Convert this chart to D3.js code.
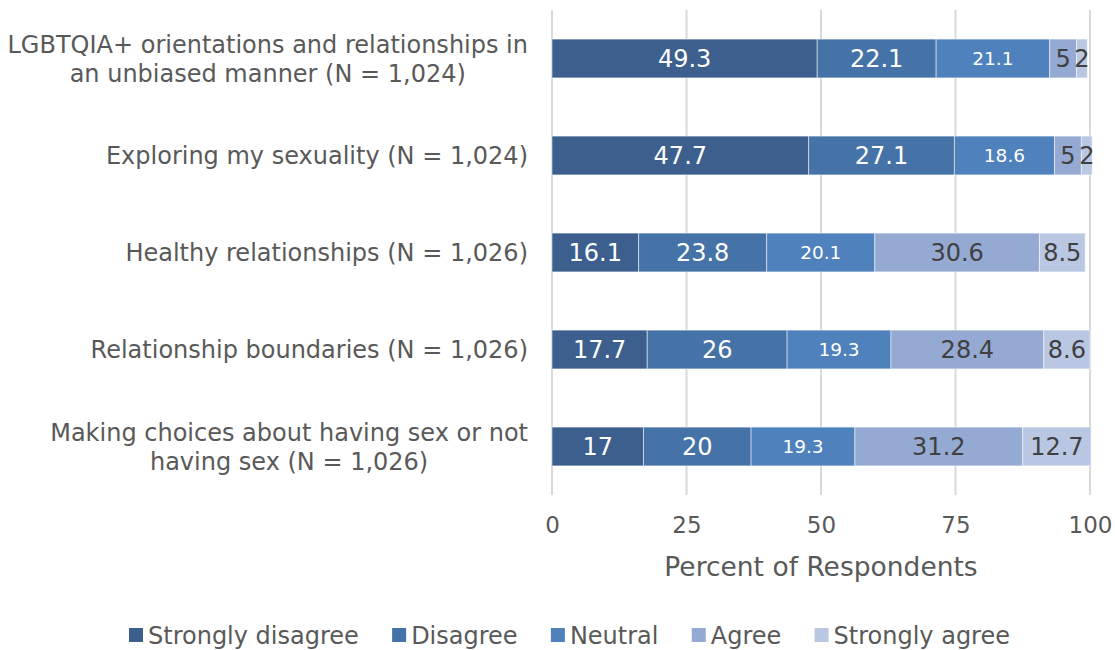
<!DOCTYPE html>
<html><head><meta charset="utf-8">
<script src="https://cdn.jsdelivr.net/npm/d3@7"></script>
<style>body{margin:0;background:#fff}svg{display:block}text{font-family:"DejaVu Sans",Verdana,sans-serif}</style>
</head><body><svg id="c" width="1115" height="650"></svg>
<script>
const categories = [
  ["LGBTQIA+ orientations and relationships in","an unbiased manner (N = 1,024)"],
  ["Exploring my sexuality (N = 1,024)"],
  ["Healthy relationships (N = 1,026)"],
  ["Relationship boundaries (N = 1,026)"],
  ["Making choices about having sex or not","having sex (N = 1,026)"]
];
const seriesNames = ["Strongly disagree","Disagree","Neutral","Agree","Strongly agree"];
const stronglyDisagree = [49.3, 47.7, 16.1, 17.7, 17];
const disagree = [22.1, 27.1, 23.8, 26, 20];
const neutral = [21.1, 18.6, 20.1, 19.3, 19.3];
const agree = [5, 5, 30.6, 28.4, 31.2];
const stronglyAgree = [2, 2, 8.5, 8.6, 12.7];
const xTicks = [0, 25, 50, 75, 100];
const colors = ["#3c5f8e","#4573a7","#4f81bd","#94aad2","#b9c7e3"];
const labelColors = ["#fff","#fff","#fff","#404040","#404040"];
const labelSizes = [24,24,18.5,24,24];

const series = [stronglyDisagree, disagree, neutral, agree, stronglyAgree];
const svg = d3.select("#c");
const pL = 552, pR = 1090, pT = 10, pB = 495;
const x = d3.scaleLinear().domain([0,100]).range([pL,pR]);
const y = d3.scaleBand().domain(d3.range(categories.length)).range([pT,pB]).paddingInner(0.6).paddingOuter(0.3);

// gridlines
svg.append("g").selectAll("line").data(xTicks).join("line")
  .attr("x1",d=>x(d)).attr("x2",d=>x(d)).attr("y1",pT).attr("y2",pB)
  .attr("stroke","#d9d9d9").attr("stroke-width",2);

// stacked data
const rows = categories.map((c,i)=>{let acc=0;return series.map((s,k)=>{const v=s[i];const r={i,k,v,x0:acc,x1:acc+v};acc+=v;return r;});});
const g = svg.append("g");
rows.forEach(r=>{
  g.selectAll(null).data(r).join("rect")
    .attr("x",d=>x(d.x0)).attr("width",d=>x(d.x1)-x(d.x0))
    .attr("y",d=>y(d.i)).attr("height",y.bandwidth())
    .attr("fill",d=>colors[d.k]).attr("stroke","#ffffff").attr("stroke-opacity",0.5).attr("stroke-width",1);
  g.selectAll(null).data(r).join("text")
    .attr("x",d=>(x(d.x0)+x(d.x1))/2).attr("y",d=>y(d.i)+y.bandwidth()/2)
    .attr("dy","0.36em").attr("text-anchor","middle")
    .attr("fill",d=>labelColors[d.k]).attr("font-size",d=>labelSizes[d.k])
    .text(d=>d.v);
});

// category labels
categories.forEach((lines,i)=>{
  const t = svg.append("text").attr("font-size",24).attr("fill","#595959").attr("text-anchor","middle");
  const cy = y(i)+y.bandwidth()/2;
  const lh = 29;
  lines.forEach((l,j)=>{
    t.append("tspan").attr("x",0).attr("y", cy + (j-(lines.length-1)/2)*lh).attr("dy","0.36em").text(l);
  });
  const bb = t.node().getBBox();
  t.selectAll("tspan").attr("x", 528 - bb.width/2);
});

// x axis labels
const xAxis = d3.axisBottom(x).tickValues(xTicks).tickSize(0).tickPadding(0);
const ax = svg.append("g").attr("transform",`translate(0,525)`).call(xAxis);
ax.select(".domain").remove();
ax.selectAll("text").attr("font-size",23).attr("fill","#595959").attr("font-family","DejaVu Sans, Verdana, sans-serif").attr("dy","0.36em");

svg.append("text").attr("x",(pL+pR)/2).attr("y",566).attr("dy","0.36em").attr("text-anchor","middle")
  .attr("font-size",26.5).attr("fill","#595959").text("Percent of Respondents");

// legend
const lg = svg.append("g");
const its = [];
let sumW = 0;
seriesNames.forEach((n,k)=>{
  const it = lg.append("g");
  it.append("rect").attr("x",0).attr("y",-7).attr("width",14).attr("height",14).attr("fill",colors[k]);
  const t = it.append("text").attr("x",19).attr("dy","0.36em").attr("font-size",24).attr("fill","#595959").text(n);
  const w = 19 + t.node().getComputedTextLength();
  its.push([it,w]); sumW += w;
});
const legStart = 129, legEnd = 1010;
const gap = (legEnd - legStart - sumW) / (its.length - 1);
let lx = 0;
its.forEach(([it,w])=>{ it.attr("transform",`translate(${lx},0)`); lx += w + gap; });
lg.attr("transform",`translate(${legStart},635)`);
</script></body></html>
